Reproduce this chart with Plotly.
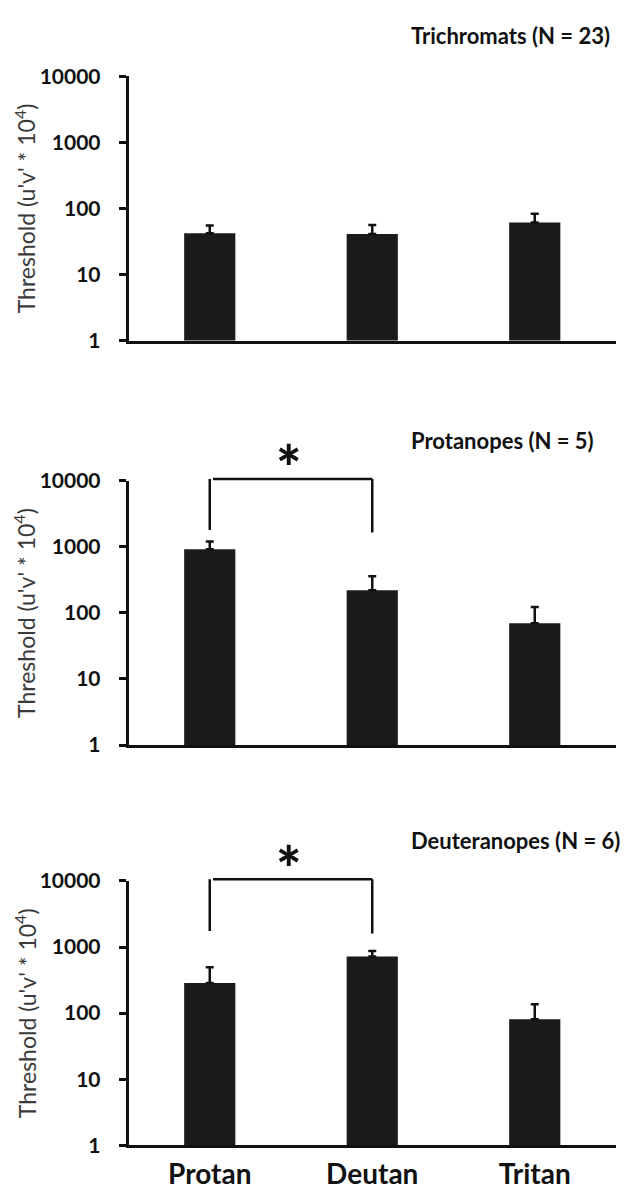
import math
import plotly.graph_objects as go

# ---------------- data ----------------
categories = ["Protan", "Deutan", "Tritan"]
panel_titles = ["Trichromats (N = 23)", "Protanopes (N = 5)", "Deuteranopes (N = 6)"]

trichromat_means = [42, 41, 61]
trichromat_err_top = [55, 56, 83]
protanope_means = [920, 220, 70]
protanope_err_top = [1200, 360, 123]
deuteranope_means = [286, 720, 81]
deuteranope_err_top = [494, 870, 136]

y_tick_vals = [1, 10, 100, 1000, 10000]
y_tick_text = ["1", "10", "100", "1000", "10000"]
y_title = "Threshold (u'v' * 10<sup>4</sup>)"

# significance brackets (panel index, pair, heights in data units)
sig_panels = [1, 2]
sig_pairs = [("Protan", "Deutan"), ("Protan", "Deutan")]
sig_top = [10600, 10600]
sig_left_bottom = [1800, 1750]
sig_right_bottom = [1650, 1600]
sig_star_y = [23400, 22900]
sig_label = "*"

# ---------------- layout geometry ----------------
W, H = 629, 1194
x_dom = [128.5 / W, 616 / W]
panel_px = [(63.5, 333.5), (476.7, 746.7), (885.5, 1155.5)]
y_doms = [[1 - b / H, 1 - t / H] for (t, b) in panel_px]
Y_DECADES = 4  # log axis spans 1 .. 10^4

means = [trichromat_means, protanope_means, deuteranope_means]
tops = [trichromat_err_top, protanope_err_top, deuteranope_err_top]

FONT = "Lato"
fig = go.Figure()

for i in range(3):
    sfx = "" if i == 0 else str(i + 1)
    fig.add_trace(go.Bar(
        x=categories, y=means[i],
        xaxis="x" + sfx, yaxis="y" + sfx,
        width=0.315, marker=dict(color="#1b1b1b", line=dict(width=0)),
        error_y=dict(type="data", symmetric=False,
                     array=[t - m for t, m in zip(tops[i], means[i])],
                     arrayminus=[0] * len(means[i]),
                     color="#111111", thickness=2.5, width=4),
        showlegend=False, hoverinfo="skip",
    ))
    xa = dict(domain=x_dom, anchor="y" + sfx, type="category",
              range=[-0.5, 2.5], showline=True, linewidth=2.5, linecolor="#111111",
              ticks="", showgrid=False, zeroline=False,
              showticklabels=(i == 2),
              tickfont=dict(family=FONT, size=28, color="#111111", weight="bold"),
              ticklabelstandoff=2)
    ya = dict(domain=y_doms[i], anchor="x" + sfx, type="log", range=[0, Y_DECADES],
              showline=True, linewidth=2.5, linecolor="#111111",
              ticks="outside", ticklen=7, tickwidth=2.5, tickcolor="#111111",
              tickvals=y_tick_vals, ticktext=y_tick_text,
              tickfont=dict(family=FONT, size=21, color="#111111", weight="bold"),
              ticklabelstandoff=14, showgrid=False, zeroline=False)
    fig.layout["xaxis" + sfx] = xa
    fig.layout["yaxis" + sfx] = ya

    # panel title
    fig.add_annotation(xref="paper", yref="paper", x=409 / W,
                       y=y_doms[i][1] + 41.5 / H, xanchor="left", yanchor="middle",
                       text=panel_titles[i], showarrow=False,
                       font=dict(family=FONT, size=22, color="#111111", weight="bold"))
    # y axis title
    fig.add_annotation(xref="paper", yref="paper", x=25 / W,
                       y=(y_doms[i][0] + y_doms[i][1]) / 2,
                       xanchor="center", yanchor="middle", textangle=-90,
                       text=y_title, showarrow=False,
                       font=dict(family=FONT, size=23, color="#3a3a3a"))

# significance brackets
for k, p in enumerate(sig_panels):
    sfx = "" if p == 0 else str(p + 1)
    a = categories.index(sig_pairs[k][0])
    b = categories.index(sig_pairs[k][1])
    top = math.log10(sig_top[k]) / Y_DECADES
    lb = math.log10(sig_left_bottom[k]) / Y_DECADES
    rb = math.log10(sig_right_bottom[k]) / Y_DECADES
    line = dict(color="#111111", width=2.5)
    common = dict(type="line", xref="x" + sfx, yref="y" + sfx + " domain", line=line)
    fig.add_shape(x0=a, x1=a, y0=lb, y1=top, **common)
    fig.add_shape(x0=a + 0.02, x1=b, y0=top, y1=top, **common)
    fig.add_shape(x0=b, x1=b, y0=rb, y1=top, **common)
    fig.add_annotation(xref="x" + sfx, yref="y" + sfx + " domain",
                       x=(a + b) / 2 - 0.01,
                       y=math.log10(sig_star_y[k]) / Y_DECADES,
                       text=sig_label, showarrow=False,
                       xanchor="center", yanchor="middle", yshift=-11,
                       font=dict(family=FONT, size=60, color="#111111", weight=900))

fig.update_layout(width=W, height=H, margin=dict(l=0, r=0, t=0, b=0),
                  paper_bgcolor="white", plot_bgcolor="white", bargap=0.5)

fig.write_html("out.html")
